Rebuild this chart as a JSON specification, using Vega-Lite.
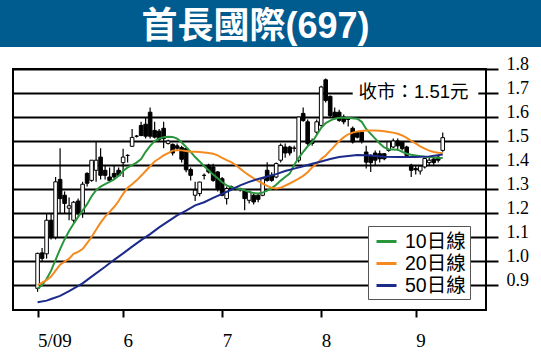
{
  "$schema": "https://vega.github.io/schema/vega-lite/v6.json",
  "padding": 0,
  "background": "white",
  "spacing": 7,
  "config": {"view": {"stroke": null}, "font": "Liberation Sans"},
  "datasets": {
    "title": [{"t": "首長國際(697)"}],
    "note": [{"label": "收市：1.51元"}],
    "candles": [
      {"i":0,"o":0.886,"h":1.035,"l":0.872,"c":1.032},
      {"i":1,"o":1.034,"h":1.054,"l":1.0,"c":1.011},
      {"i":2,"o":1.03,"h":1.2,"l":1.01,"c":1.17},
      {"i":3,"o":1.17,"h":1.2,"l":1.09,"c":1.1},
      {"i":4,"o":1.1,"h":1.35,"l":1.09,"c":1.33},
      {"i":5,"o":1.34,"h":1.47,"l":1.2,"c":1.26},
      {"i":6,"o":1.274,"h":1.29,"l":1.2,"c":1.24},
      {"i":7,"o":1.22,"h":1.265,"l":1.17,"c":1.23},
      {"i":8,"o":1.17,"h":1.25,"l":1.16,"c":1.245},
      {"i":9,"o":1.25,"h":1.26,"l":1.19,"c":1.2},
      {"i":10,"o":1.2,"h":1.33,"l":1.18,"c":1.32},
      {"i":11,"o":1.365,"h":1.37,"l":1.31,"c":1.324},
      {"i":12,"o":1.336,"h":1.42,"l":1.33,"c":1.42},
      {"i":13,"o":1.378,"h":1.496,"l":1.33,"c":1.42},
      {"i":14,"o":1.433,"h":1.47,"l":1.34,"c":1.357},
      {"i":15,"o":1.378,"h":1.4,"l":1.34,"c":1.357},
      {"i":16,"o":1.35,"h":1.39,"l":1.33,"c":1.336},
      {"i":17,"o":1.365,"h":1.4,"l":1.34,"c":1.35},
      {"i":18,"o":1.378,"h":1.39,"l":1.35,"c":1.357},
      {"i":19,"o":1.41,"h":1.468,"l":1.35,"c":1.433},
      {"i":20,"o":1.44,"h":1.445,"l":1.41,"c":1.44},
      {"i":21,"o":1.478,"h":1.55,"l":1.475,"c":1.515},
      {"i":22,"o":1.52,"h":1.525,"l":1.515,"c":1.52},
      {"i":23,"o":1.565,"h":1.58,"l":1.52,"c":1.523},
      {"i":24,"o":1.57,"h":1.6,"l":1.51,"c":1.52},
      {"i":25,"o":1.62,"h":1.64,"l":1.51,"c":1.52},
      {"i":26,"o":1.544,"h":1.58,"l":1.51,"c":1.516},
      {"i":27,"o":1.541,"h":1.55,"l":1.5,"c":1.507},
      {"i":28,"o":1.553,"h":1.58,"l":1.47,"c":1.51},
      {"i":29,"o":1.49,"h":1.505,"l":1.485,"c":1.5},
      {"i":30,"o":1.486,"h":1.49,"l":1.44,"c":1.45},
      {"i":31,"o":1.48,"h":1.49,"l":1.46,"c":1.47},
      {"i":32,"o":1.473,"h":1.48,"l":1.41,"c":1.424},
      {"i":33,"o":1.469,"h":1.47,"l":1.37,"c":1.38},
      {"i":34,"o":1.381,"h":1.39,"l":1.336,"c":1.357},
      {"i":35,"o":1.274,"h":1.33,"l":1.25,"c":1.295},
      {"i":36,"o":1.281,"h":1.33,"l":1.27,"c":1.329},
      {"i":37,"o":1.357,"h":1.365,"l":1.34,"c":1.357},
      {"i":38,"o":1.399,"h":1.405,"l":1.365,"c":1.371},
      {"i":39,"o":1.392,"h":1.405,"l":1.33,"c":1.336},
      {"i":40,"o":1.371,"h":1.375,"l":1.29,"c":1.302},
      {"i":41,"o":1.343,"h":1.35,"l":1.27,"c":1.274},
      {"i":42,"o":1.26,"h":1.31,"l":1.235,"c":1.302},
      {"i":43,"o":1.31,"h":1.315,"l":1.295,"c":1.3},
      {"i":44,"o":1.3,"h":1.305,"l":1.295,"c":1.3},
      {"i":45,"o":1.3,"h":1.305,"l":1.29,"c":1.3},
      {"i":46,"o":1.295,"h":1.3,"l":1.212,"c":1.26},
      {"i":47,"o":1.253,"h":1.29,"l":1.24,"c":1.288},
      {"i":48,"o":1.274,"h":1.28,"l":1.235,"c":1.246},
      {"i":49,"o":1.274,"h":1.28,"l":1.245,"c":1.257},
      {"i":50,"o":1.274,"h":1.35,"l":1.27,"c":1.343},
      {"i":51,"o":1.378,"h":1.412,"l":1.33,"c":1.336},
      {"i":52,"o":1.357,"h":1.37,"l":1.33,"c":1.336},
      {"i":53,"o":1.35,"h":1.41,"l":1.345,"c":1.406},
      {"i":54,"o":1.42,"h":1.49,"l":1.41,"c":1.482},
      {"i":55,"o":1.475,"h":1.49,"l":1.43,"c":1.45},
      {"i":56,"o":1.475,"h":1.48,"l":1.44,"c":1.45},
      {"i":57,"o":1.47,"h":1.48,"l":1.455,"c":1.47},
      {"i":58,"o":1.42,"h":1.6,"l":1.41,"c":1.6},
      {"i":59,"o":1.615,"h":1.64,"l":1.58,"c":1.585},
      {"i":60,"o":1.58,"h":1.59,"l":1.48,"c":1.489},
      {"i":61,"o":1.5,"h":1.51,"l":1.48,"c":1.49},
      {"i":62,"o":1.537,"h":1.59,"l":1.53,"c":1.58},
      {"i":63,"o":1.565,"h":1.73,"l":1.56,"c":1.725},
      {"i":64,"o":1.755,"h":1.76,"l":1.66,"c":1.669},
      {"i":65,"o":1.686,"h":1.69,"l":1.6,"c":1.606},
      {"i":66,"o":1.62,"h":1.64,"l":1.59,"c":1.6},
      {"i":67,"o":1.62,"h":1.63,"l":1.58,"c":1.586},
      {"i":68,"o":1.6,"h":1.61,"l":1.57,"c":1.58},
      {"i":69,"o":1.59,"h":1.6,"l":1.56,"c":1.59},
      {"i":70,"o":1.553,"h":1.56,"l":1.49,"c":1.496},
      {"i":71,"o":1.537,"h":1.54,"l":1.51,"c":1.516},
      {"i":72,"o":1.537,"h":1.545,"l":1.49,"c":1.5},
      {"i":73,"o":1.454,"h":1.48,"l":1.386,"c":1.412},
      {"i":74,"o":1.44,"h":1.445,"l":1.371,"c":1.41},
      {"i":75,"o":1.45,"h":1.46,"l":1.4,"c":1.42},
      {"i":76,"o":1.447,"h":1.46,"l":1.41,"c":1.426},
      {"i":77,"o":1.447,"h":1.45,"l":1.42,"c":1.426},
      {"i":78,"o":1.461,"h":1.5,"l":1.455,"c":1.496},
      {"i":79,"o":1.475,"h":1.51,"l":1.47,"c":1.5},
      {"i":80,"o":1.5,"h":1.51,"l":1.46,"c":1.48},
      {"i":81,"o":1.496,"h":1.5,"l":1.46,"c":1.468},
      {"i":82,"o":1.475,"h":1.48,"l":1.43,"c":1.44},
      {"i":83,"o":1.399,"h":1.405,"l":1.35,"c":1.378},
      {"i":84,"o":1.385,"h":1.4,"l":1.36,"c":1.38},
      {"i":85,"o":1.375,"h":1.4,"l":1.36,"c":1.395},
      {"i":86,"o":1.392,"h":1.43,"l":1.385,"c":1.427},
      {"i":87,"o":1.41,"h":1.43,"l":1.4,"c":1.42},
      {"i":88,"o":1.425,"h":1.43,"l":1.4,"c":1.41},
      {"i":89,"o":1.433,"h":1.44,"l":1.41,"c":1.42},
      {"i":90,"o":1.461,"h":1.535,"l":1.455,"c":1.514}
    ],
    "ma": [
      {"s":"10日線","i":0,"v":0.885},{"s":"10日線","i":1,"v":0.9},{"s":"10日線","i":2,"v":0.925},{"s":"10日線","i":3,"v":0.96},{"s":"10日線","i":4,"v":1.005},{"s":"10日線","i":5,"v":1.05},{"s":"10日線","i":6,"v":1.09},{"s":"10日線","i":7,"v":1.125},{"s":"10日線","i":8,"v":1.155},{"s":"10日線","i":9,"v":1.184},
      {"s":"10日線","i":10,"v":1.21},{"s":"10日線","i":11,"v":1.237},{"s":"10日線","i":12,"v":1.27},{"s":"10日線","i":13,"v":1.295},{"s":"10日線","i":14,"v":1.31},{"s":"10日線","i":15,"v":1.32},{"s":"10日線","i":16,"v":1.33},{"s":"10日線","i":17,"v":1.34},{"s":"10日線","i":18,"v":1.355},{"s":"10日線","i":19,"v":1.375},
      {"s":"10日線","i":20,"v":1.39},{"s":"10日線","i":21,"v":1.4},{"s":"10日線","i":22,"v":1.41},{"s":"10日線","i":23,"v":1.425},{"s":"10日線","i":24,"v":1.455},{"s":"10日線","i":25,"v":1.48},{"s":"10日線","i":26,"v":1.5},{"s":"10日線","i":27,"v":1.51},{"s":"10日線","i":28,"v":1.516},{"s":"10日線","i":29,"v":1.518},
      {"s":"10日線","i":30,"v":1.517},{"s":"10日線","i":31,"v":1.51},{"s":"10日線","i":32,"v":1.495},{"s":"10日線","i":33,"v":1.475},{"s":"10日線","i":34,"v":1.455},{"s":"10日線","i":35,"v":1.433},{"s":"10日線","i":36,"v":1.415},{"s":"10日線","i":37,"v":1.395},{"s":"10日線","i":38,"v":1.378},{"s":"10日線","i":39,"v":1.36},
      {"s":"10日線","i":40,"v":1.345},{"s":"10日線","i":41,"v":1.328},{"s":"10日線","i":42,"v":1.315},{"s":"10日線","i":43,"v":1.308},{"s":"10日線","i":44,"v":1.303},{"s":"10日線","i":45,"v":1.3},{"s":"10日線","i":46,"v":1.295},{"s":"10日線","i":47,"v":1.288},{"s":"10日線","i":48,"v":1.283},{"s":"10日線","i":49,"v":1.281},
      {"s":"10日線","i":50,"v":1.285},{"s":"10日線","i":51,"v":1.293},{"s":"10日線","i":52,"v":1.303},{"s":"10日線","i":53,"v":1.318},{"s":"10日線","i":54,"v":1.335},{"s":"10日線","i":55,"v":1.35},{"s":"10日線","i":56,"v":1.364},{"s":"10日線","i":57,"v":1.4},{"s":"10日線","i":58,"v":1.43},{"s":"10日線","i":59,"v":1.455},
      {"s":"10日線","i":60,"v":1.478},{"s":"10日線","i":61,"v":1.496},{"s":"10日線","i":62,"v":1.525},{"s":"10日線","i":63,"v":1.555},{"s":"10日線","i":64,"v":1.575},{"s":"10日線","i":65,"v":1.585},{"s":"10日線","i":66,"v":1.593},{"s":"10日線","i":67,"v":1.597},{"s":"10日線","i":68,"v":1.597},{"s":"10日線","i":69,"v":1.596},
      {"s":"10日線","i":70,"v":1.595},{"s":"10日線","i":71,"v":1.593},{"s":"10日線","i":72,"v":1.58},{"s":"10日線","i":73,"v":1.55},{"s":"10日線","i":74,"v":1.53},{"s":"10日線","i":75,"v":1.51},{"s":"10日線","i":76,"v":1.49},{"s":"10日線","i":77,"v":1.473},{"s":"10日線","i":78,"v":1.466},{"s":"10日線","i":79,"v":1.465},
      {"s":"10日線","i":80,"v":1.464},{"s":"10日線","i":81,"v":1.455},{"s":"10日線","i":82,"v":1.447},{"s":"10日線","i":83,"v":1.443},{"s":"10日線","i":84,"v":1.44},{"s":"10日線","i":85,"v":1.437},{"s":"10日線","i":86,"v":1.434},{"s":"10日線","i":87,"v":1.433},{"s":"10日線","i":88,"v":1.432},{"s":"10日線","i":89,"v":1.43},{"s":"10日線","i":90,"v":1.429},
      {"s":"20日線","i":0,"v":0.9},{"s":"20日線","i":1,"v":0.91},{"s":"20日線","i":2,"v":0.92},{"s":"20日線","i":3,"v":0.935},{"s":"20日線","i":4,"v":0.96},{"s":"20日線","i":5,"v":0.985},{"s":"20日線","i":6,"v":0.997},{"s":"20日線","i":7,"v":1.01},{"s":"20日線","i":8,"v":1.03},{"s":"20日線","i":9,"v":1.038},
      {"s":"20日線","i":10,"v":1.05},{"s":"20日線","i":11,"v":1.075},{"s":"20日線","i":12,"v":1.1},{"s":"20日線","i":13,"v":1.13},{"s":"20日線","i":14,"v":1.16},{"s":"20日線","i":15,"v":1.185},{"s":"20日線","i":16,"v":1.205},{"s":"20日線","i":17,"v":1.225},{"s":"20日線","i":18,"v":1.25},{"s":"20日線","i":19,"v":1.28},
      {"s":"20日線","i":20,"v":1.305},{"s":"20日線","i":21,"v":1.32},{"s":"20日線","i":22,"v":1.336},{"s":"20日線","i":23,"v":1.355},{"s":"20日線","i":24,"v":1.375},{"s":"20日線","i":25,"v":1.395},{"s":"20日線","i":26,"v":1.415},{"s":"20日線","i":27,"v":1.427},{"s":"20日線","i":28,"v":1.44},{"s":"20日線","i":29,"v":1.45},
      {"s":"20日線","i":30,"v":1.46},{"s":"20日線","i":31,"v":1.462},{"s":"20日線","i":32,"v":1.461},{"s":"20日線","i":33,"v":1.458},{"s":"20日線","i":34,"v":1.455},{"s":"20日線","i":35,"v":1.455},{"s":"20日線","i":36,"v":1.454},{"s":"20日線","i":37,"v":1.452},{"s":"20日線","i":38,"v":1.45},{"s":"20日線","i":39,"v":1.447},
      {"s":"20日線","i":40,"v":1.44},{"s":"20日線","i":41,"v":1.43},{"s":"20日線","i":42,"v":1.42},{"s":"20日線","i":43,"v":1.412},{"s":"20日線","i":44,"v":1.4},{"s":"20日線","i":45,"v":1.385},{"s":"20日線","i":46,"v":1.37},{"s":"20日線","i":47,"v":1.357},{"s":"20日線","i":48,"v":1.345},{"s":"20日線","i":49,"v":1.333},
      {"s":"20日線","i":50,"v":1.323},{"s":"20日線","i":51,"v":1.313},{"s":"20日線","i":52,"v":1.305},{"s":"20日線","i":53,"v":1.302},{"s":"20日線","i":54,"v":1.305},{"s":"20日線","i":55,"v":1.314},{"s":"20日線","i":56,"v":1.323},{"s":"20日線","i":57,"v":1.333},{"s":"20日線","i":58,"v":1.343},{"s":"20日線","i":59,"v":1.355},
      {"s":"20日線","i":60,"v":1.37},{"s":"20日線","i":61,"v":1.39},{"s":"20日線","i":62,"v":1.405},{"s":"20日線","i":63,"v":1.425},{"s":"20日線","i":64,"v":1.44},{"s":"20日線","i":65,"v":1.46},{"s":"20日線","i":66,"v":1.48},{"s":"20日線","i":67,"v":1.5},{"s":"20日線","i":68,"v":1.515},{"s":"20日線","i":69,"v":1.528},
      {"s":"20日線","i":70,"v":1.535},{"s":"20日線","i":71,"v":1.54},{"s":"20日線","i":72,"v":1.542},{"s":"20日線","i":73,"v":1.544},{"s":"20日線","i":74,"v":1.544},{"s":"20日線","i":75,"v":1.544},{"s":"20日線","i":76,"v":1.543},{"s":"20日線","i":77,"v":1.541},{"s":"20日線","i":78,"v":1.538},{"s":"20日線","i":79,"v":1.535},
      {"s":"20日線","i":80,"v":1.53},{"s":"20日線","i":81,"v":1.523},{"s":"20日線","i":82,"v":1.513},{"s":"20日線","i":83,"v":1.5},{"s":"20日線","i":84,"v":1.49},{"s":"20日線","i":85,"v":1.478},{"s":"20日線","i":86,"v":1.468},{"s":"20日線","i":87,"v":1.46},{"s":"20日線","i":88,"v":1.454},{"s":"20日線","i":89,"v":1.451},{"s":"20日線","i":90,"v":1.45},
      {"s":"50日線","i":0,"v":0.828},{"s":"50日線","i":2,"v":0.835},{"s":"50日線","i":3,"v":0.842},{"s":"50日線","i":5,"v":0.855},{"s":"50日線","i":7,"v":0.875},{"s":"50日線","i":10,"v":0.907},{"s":"50日線","i":12,"v":0.935},{"s":"50日線","i":15,"v":0.976},{"s":"50日線","i":17,"v":1.005},{"s":"50日線","i":19,"v":1.032},
      {"s":"50日線","i":21,"v":1.06},{"s":"50日線","i":23,"v":1.087},{"s":"50日線","i":25,"v":1.112},{"s":"50日線","i":27,"v":1.14},{"s":"50日線","i":29,"v":1.165},{"s":"50日線","i":31,"v":1.19},{"s":"50日線","i":33,"v":1.21},{"s":"50日線","i":35,"v":1.232},{"s":"50日線","i":37,"v":1.245},{"s":"50日線","i":39,"v":1.263},
      {"s":"50日線","i":41,"v":1.28},{"s":"50日線","i":43,"v":1.297},{"s":"50日線","i":45,"v":1.315},{"s":"50日線","i":47,"v":1.33},{"s":"50日線","i":49,"v":1.342},{"s":"50日線","i":51,"v":1.352},{"s":"50日線","i":53,"v":1.362},{"s":"50日線","i":55,"v":1.375},{"s":"50日線","i":57,"v":1.385},{"s":"50日線","i":59,"v":1.395},
      {"s":"50日線","i":61,"v":1.405},{"s":"50日線","i":63,"v":1.415},{"s":"50日線","i":65,"v":1.425},{"s":"50日線","i":67,"v":1.433},{"s":"50日線","i":69,"v":1.438},{"s":"50日線","i":71,"v":1.442},{"s":"50日線","i":73,"v":1.441},{"s":"50日線","i":75,"v":1.438},{"s":"50日線","i":77,"v":1.434},{"s":"50日線","i":80,"v":1.433},
      {"s":"50日線","i":84,"v":1.433},{"s":"50日線","i":87,"v":1.436},{"s":"50日線","i":90,"v":1.444}
    ]
  },
  "vconcat": [
    {
      "width": 541,
      "height": 47,
      "view": {"fill": "#005b8f", "stroke": null},
      "data": {"name": "title"},
      "mark": {"type": "text", "color": "white", "font": "Liberation Sans, Noto Sans CJK TC", "fontWeight": "bold", "fontSize": 36, "dx": -15, "dy": 14, "align": "center", "baseline": "alphabetic"},
      "encoding": {"text": {"field": "t"}}
    },
    {
      "spacing": 0,
      "hconcat": [
        {
          "width": 12,
          "height": 241,
          "view": {"fill": "white", "stroke": null},
          "data": {"values": []},
          "mark": "point",
          "encoding": {}
        },
        {
          "width": 473,
          "height": 241,
          "view": {"stroke": "black", "strokeWidth": 2},
          "resolve": {"axis": {"x": "independent", "y": "independent"}},
          "layer": [
            {
              "data": {"name": "candles"},
              "mark": {"type": "rule", "color": "black", "strokeWidth": 1.2},
              "encoding": {
                "x": {"field": "i", "type": "quantitative",
                  "scale": {"domain": [-4.35, 98.5], "nice": false, "zero": false},
                  "axis": {"orient": "bottom", "values": [0, 19, 41, 63, 84],
                    "labelExpr": "datum.value == 0 ? '5/09' : datum.value == 19 ? '6' : datum.value == 41 ? '7' : datum.value == 63 ? '8' : '9'",
                    "title": null, "grid": false, "domain": false, "tickColor": "black", "tickWidth": 2, "tickSize": 7,
                    "labelAlign": "left", "labelBaseline": "top", "labelPadding": 14, "labelFont": "Liberation Serif", "labelFontSize": 19, "labelColor": "black"}},
                "y": {"field": "l", "type": "quantitative",
                  "scale": {"domain": [0.796, 1.8], "nice": false, "zero": false},
                  "axis": {"orient": "right", "values": [0.9, 1.0, 1.1, 1.2, 1.3, 1.4, 1.5, 1.6, 1.7, 1.8], "format": ".1f",
                    "title": null, "grid": true, "gridColor": "black", "gridWidth": 1.8, "gridOpacity": 1, "domain": false,
                    "tickColor": "black", "tickWidth": 2, "tickSize": 12, "labelPadding": 8, "labelBaseline": "alphabetic",
                    "labelFont": "Liberation Serif", "labelFontSize": 18, "labelColor": "black", "labelAlign": "left"}},
                "y2": {"field": "h"}
              }
            },
            {
              "data": {"name": "candles"},
              "mark": {"type": "bar", "size": 3.6, "stroke": "black", "strokeWidth": 1},
              "encoding": {
                "x": {"field": "i", "type": "quantitative", "scale": {"domain": [-4.35, 98.5], "nice": false, "zero": false}, "axis": null},
                "y": {"field": "o", "type": "quantitative", "scale": {"domain": [0.796, 1.8], "nice": false, "zero": false}, "axis": null},
                "y2": {"field": "c"},
                "fill": {"condition": {"test": "datum.c >= datum.o", "value": "white"}, "value": "black"}
              }
            },
            {
              "data": {"name": "ma"},
              "mark": {"type": "line", "strokeWidth": 2},
              "encoding": {
                "x": {"field": "i", "type": "quantitative", "scale": {"domain": [-4.35, 98.5], "nice": false, "zero": false}, "axis": null},
                "y": {"field": "v", "type": "quantitative", "scale": {"domain": [0.796, 1.8], "nice": false, "zero": false}, "axis": null},
                "color": {"field": "s", "type": "nominal",
                  "scale": {"domain": ["10日線", "20日線", "50日線"], "range": ["#2a963c", "#f58a1f", "#1c2a8a"]},
                  "legend": {"orient": "none", "legendX": 368, "legendY": 226, "title": null, "strokeColor": "#555555", "fillColor": "white",
                    "padding": 4, "rowPadding": 1, "symbolType": "stroke", "symbolStrokeWidth": 3, "symbolSize": 400, "symbolOffset": 3,
                    "labelFontSize": 19.5, "labelFont": "Liberation Sans, Noto Sans CJK TC", "labelColor": "black", "labelOffset": 7}}
              }
            },
            {
              "data": {"name": "note"},
              "mark": {"type": "rect", "fill": "white"},
              "encoding": {
                "x": {"datum": 70.0, "type": "quantitative", "scale": {"domain": [-4.35, 98.5], "nice": false, "zero": false}, "axis": null},
                "x2": {"datum": 97.9},
                "y": {"datum": 1.68, "type": "quantitative", "scale": {"domain": [0.796, 1.8], "nice": false, "zero": false}, "axis": null},
                "y2": {"datum": 1.735}
              }
            },
            {
              "data": {"name": "note"},
              "mark": {"type": "text", "align": "left", "baseline": "middle", "fontSize": 18.5, "font": "Liberation Sans, Noto Sans CJK TC", "color": "black"},
              "encoding": {
                "x": {"datum": 71.3, "type": "quantitative", "scale": {"domain": [-4.35, 98.5], "nice": false, "zero": false}, "axis": null},
                "y": {"datum": 1.706, "type": "quantitative", "scale": {"domain": [0.796, 1.8], "nice": false, "zero": false}, "axis": null},
                "text": {"field": "label"}
              }
            }
          ]
        }
      ]
    }
  ]
}
